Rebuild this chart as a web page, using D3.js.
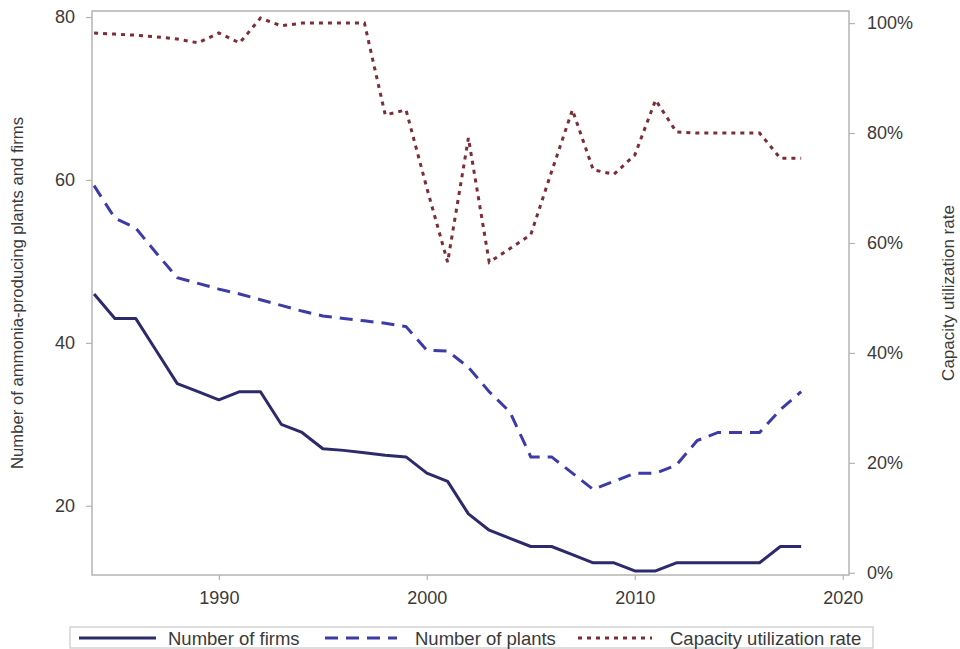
<!DOCTYPE html>
<html>
<head>
<meta charset="utf-8">
<script src="https://cdn.jsdelivr.net/npm/d3@7"></script>
<style>
  html, body { margin: 0; padding: 0; background: #fff; }
  svg { display: block; }
  text { font-family: "Liberation Sans", Arial, sans-serif; fill: #3a3a3a; }
</style>
</head>
<body>
<svg id="chart" width="960" height="649"></svg>
<script>
const years = [1984,1985,1986,1987,1988,1989,1990,1991,1992,1993,1994,1995,1996,1997,1998,1999,2000,2001,2002,2003,2004,2005,2006,2007,2008,2009,2010,2011,2012,2013,2014,2015,2016,2017,2018];
const firms = [46,43,43,39,35,34,33,34,34,30,29,27,26.8,26.5,26.2,26,24,23,19,17,16,15,15,14,13,13,12,12,13,13,13,13,13,15,15];
const plants = [59.3,55.3,54.1,51,48,47.3,46.6,46,45.3,44.6,43.9,43.3,43,42.7,42.4,42,39.1,39,37,34,31.5,26,26,24,22,23,24,24,25,28,29,29,29,31.8,34];
const capacity = [0.982,0.98,0.978,0.975,0.971,0.964,0.982,0.964,1.009,0.995,1.0,1.0,1.0,1.0,0.833,0.842,0.70,0.565,0.791,0.565,0.59,0.615,0.73,0.842,0.733,0.725,0.76,0.86,0.802,0.80,0.80,0.80,0.80,0.754,0.754];
const xTicks = [1990,2000,2010,2020];
const leftTicks = [20,40,60,80];
const rightTicks = [0,0.2,0.4,0.6,0.8,1.0];
const seriesNames = ["Number of firms","Number of plants","Capacity utilization rate"];
const leftTitle = "Number of ammonia-producing plants and firms";
const rightTitle = "Capacity utilization rate";

const svg = d3.select("#chart");
const L = 92, R = 849, T = 11, B = 575;

const x = d3.scaleLinear().domain([1983.9, 2020.3]).range([L, R]);
const yL = d3.scaleLinear().domain([11.5, 80.74]).range([B, T]);
const yR = d3.scaleLinear().domain([-0.004, 1.022]).range([B, T]);

const frameColor = "#b4b4b4";

// frame
svg.append("rect").attr("x", L).attr("y", T).attr("width", R - L).attr("height", B - T)
  .attr("fill", "none").attr("stroke", frameColor).attr("stroke-width", 1.5);

function styleAxis(g) {
  g.select(".domain").remove();
  g.selectAll(".tick line").attr("stroke", frameColor).attr("stroke-width", 1.2);
  g.selectAll(".tick text").style("font-size", "18px").attr("fill", "#3a3a3a");
}

svg.append("g").attr("transform", `translate(0,${B})`)
  .call(d3.axisBottom(x).tickValues(xTicks).tickFormat(d3.format("d")).tickSize(5).tickPadding(11))
  .call(styleAxis);

svg.append("g").attr("transform", `translate(${L},0)`)
  .call(d3.axisLeft(yL).tickValues(leftTicks).tickSize(6).tickPadding(11))
  .call(styleAxis);

svg.append("g").attr("transform", `translate(${R},0)`)
  .call(d3.axisRight(yR).tickValues(rightTicks).tickFormat(d => Math.round(d * 100) + "%").tickSize(6).tickPadding(12))
  .call(styleAxis);

// axis titles
svg.append("text")
  .attr("transform", `translate(23,${(T + B) / 2}) rotate(-90)`)
  .attr("text-anchor", "middle")
  .attr("textLength", 352).attr("lengthAdjust", "spacingAndGlyphs")
  .style("font-size", "17px").text(leftTitle);

svg.append("text")
  .attr("transform", `translate(954,${(T + B) / 2}) rotate(-90)`)
  .attr("text-anchor", "middle")
  .style("font-size", "17px").text(rightTitle);

const firmsColor = "#2c2a6a", plantsColor = "#3d3ba8", capColor = "#7d2c38";

const lineL = d3.line().x((d, i) => x(years[i])).y(d => yL(d));
const lineR = d3.line().x((d, i) => x(years[i])).y(d => yR(d));

svg.append("path").datum(capacity).attr("d", lineR)
  .attr("fill", "none").attr("stroke", capColor).attr("stroke-width", 3)
  .attr("stroke-dasharray", "4,5");

svg.append("path").datum(plants).attr("d", lineL)
  .attr("fill", "none").attr("stroke", plantsColor).attr("stroke-width", 3)
  .attr("stroke-dasharray", "13,8");

svg.append("path").datum(firms).attr("d", lineL)
  .attr("fill", "none").attr("stroke", firmsColor).attr("stroke-width", 3)
  .attr("stroke-linejoin", "round");

// legend
const lg = svg.append("g");
lg.append("rect").attr("x", 70).attr("y", 627).attr("width", 803).attr("height", 21)
  .attr("fill", "#fff").attr("stroke", "#c8c8c8").attr("stroke-width", 1.2);
const legendItems = [
  { name: seriesNames[0], color: firmsColor, dash: null, x1: 79, x2: 156, tx: 168 },
  { name: seriesNames[1], color: plantsColor, dash: "13,8", x1: 325, x2: 397, tx: 415 },
  { name: seriesNames[2], color: capColor, dash: "4,5", x1: 578, x2: 652, tx: 670 }
];
legendItems.forEach(it => {
  lg.append("line").attr("x1", it.x1).attr("x2", it.x2).attr("y1", 638).attr("y2", 638)
    .attr("stroke", it.color).attr("stroke-width", 3).attr("stroke-dasharray", it.dash);
  lg.append("text").attr("x", it.tx).attr("y", 644.5).style("font-size", "18.5px").text(it.name);
});
</script>
</body>
</html>
